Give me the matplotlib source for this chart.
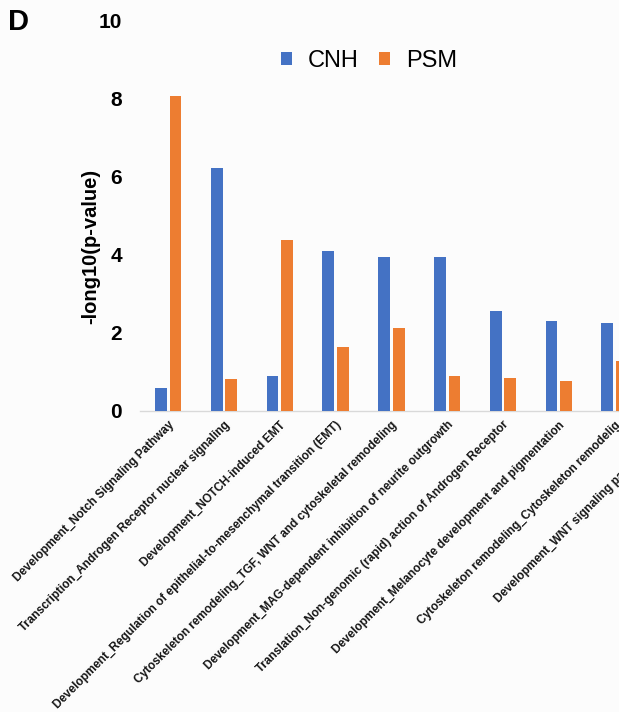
import numpy as np
import matplotlib
matplotlib.use("Agg")
import matplotlib.pyplot as plt
from matplotlib.patches import Patch

plt.rcParams['font.family'] = ['Liberation Sans', 'DejaVu Sans']

pathways = [
    "Development_Notch Signaling Pathway",
    "Transcription_Androgen Receptor nuclear signaling",
    "Development_NOTCH-induced EMT",
    "Development_Regulation of epithelial-to-mesenchymal transition (EMT)",
    "Cytoskeleton remodeling_TGF, WNT and cytoskeletal remodeling",
    "Development_MAG-dependent inhibition of neurite outgrowth",
    "Translation_Non-genomic (rapid) action of Androgen Receptor",
    "Development_Melanocyte development and pigmentation",
    "Cytoskeleton remodeling_Cytoskeleton remodelig",
    "Development_WNT signaling pathway. Part 2",
]
cnh = [0.58, 6.21, 0.90, 4.10, 3.93, 3.93, 2.56, 2.31, 2.26, 2.20]
psm = [8.07, 0.81, 4.38, 1.63, 2.11, 0.89, 0.85, 0.77, 1.28, 1.00]
yticks = [0, 2, 4, 6, 8, 10]

blue = "#4472C4"
orange = "#ED7D31"

W, H = 619, 712
fig = plt.figure(figsize=(W / 100, H / 100), dpi=100)
fig.patch.set_facecolor("#fcfcfc")

# axes runs past the right edge of the figure
left_px, right_px = 140.3, 698.3
zero_px, top_px = 410.8, 20.5
ax = fig.add_axes([left_px / W, 1 - zero_px / H,
                   (right_px - left_px) / W, (zero_px - top_px) / H])
ax.set_facecolor("#fcfcfc")

x = np.arange(len(pathways))
bw = 0.21
off = 0.13
ax.bar(x - off, cnh, width=bw, color=blue, label="CNH", zorder=3)
ax.bar(x + off, psm, width=bw, color=orange, label="PSM", zorder=3)

ax.set_xlim(-0.5, len(pathways) - 0.5)
ax.set_ylim(0, 10)
ax.set_yticks(yticks)
ax.set_yticklabels([str(t) for t in yticks], fontsize=15, fontweight="bold")
ax.tick_params(axis="y", length=0, pad=13.3)
ax.tick_params(axis="x", length=0)
ax.set_xticks(x)
ax.set_xticklabels([])

for s in ["top", "right", "left"]:
    ax.spines[s].set_visible(False)
ax.spines["bottom"].set_color("#d9d9d9")
ax.spines["bottom"].set_linewidth(1.0)

# rotated category labels hanging from each category position
for xi, name in zip(x, pathways):
    ax.annotate(name, xy=(xi, 0), xycoords="data",
                xytext=(3, -9), textcoords="offset points",
                rotation=45, rotation_mode="anchor",
                ha="right", va="center",
                fontsize=8.5, fontweight="bold", color="#151515",
                annotation_clip=False)

ax.set_ylabel("-long10(p-value)", fontsize=14.5, fontweight="bold")
ax.yaxis.set_label_coords((100 - left_px) / (right_px - left_px),
                          (zero_px - 246) / (zero_px - top_px))

handles = [Patch(facecolor=blue), Patch(facecolor=orange)]
fig.legend(handles, ["CNH", "PSM"], loc="center",
           bbox_to_anchor=(369 / W, 1 - 61 / H), ncol=2, frameon=False,
           fontsize=17, handlelength=0.47, handleheight=0.47,
           handletextpad=0.68, columnspacing=0.85)

fig.text(18.5 / W, 1 - 22.5 / H, "D", fontsize=21, fontweight="bold",
         ha="center", va="center")

fig.savefig("out.png", dpi=100, facecolor=fig.get_facecolor())
